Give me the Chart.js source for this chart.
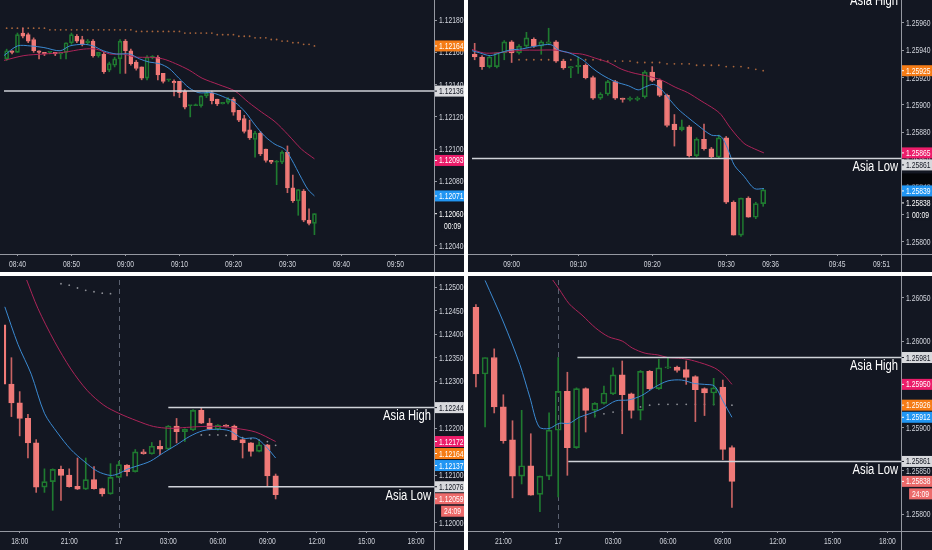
<!DOCTYPE html>
<html>
<head>
<meta charset="utf-8">
<script src="https://cdn.jsdelivr.net/npm/chart.js@4.4.0/dist/chart.umd.min.js"></script>
<style>
  body { margin: 0; background: #131722; width: 932px; height: 550px; overflow: hidden; position: relative; }
  canvas { position: absolute; }
  .sep { position: absolute; background: #ffffff; }
</style>
</head>
<body>
<canvas id="tl" width="464" height="272" style="left:0;top:0"></canvas>
<canvas id="tr" width="464" height="272" style="left:468px;top:0"></canvas>
<canvas id="bl" width="464" height="274" style="left:0;top:276px"></canvas>
<canvas id="br" width="464" height="274" style="left:468px;top:276px"></canvas>
<div class="sep" style="left:464px;top:0;width:4px;height:550px"></div>
<div class="sep" style="left:0;top:272px;width:932px;height:4px"></div>
<script>
// ---- top left: 1 min, 08:38 - 09:35
const tlOpen = [1.12156,1.12161,1.12160,1.12172,1.12171,1.12168,1.12161,1.12160,1.12160,1.12160,1.12159,1.12160,1.12166,1.12170,1.12168,1.12166,1.12167,1.12158,1.12159,1.12149,1.12152,1.12156,1.12167,1.12161,1.12154,1.12151,1.12144,1.12157,1.12157,1.12147,1.12143,1.12142,1.12142,1.12136,1.12127,1.12127,1.12127,1.12133,1.12135,1.12131,1.12128,1.12129,1.12131,1.12124,1.12119,1.12112,1.12106,1.12110,1.12100,1.12093,1.12092,1.12092,1.12098,1.12076,1.12068,1.12074,1.12056,1.12054];
const tlHigh = [1.12162,1.12161,1.12172,1.12175,1.12172,1.12169,1.12161,1.12160,1.12160,1.12160,1.12160,1.12166,1.12172,1.12171,1.12170,1.12168,1.12168,1.12160,1.12160,1.12154,1.12157,1.12168,1.12168,1.12162,1.12155,1.12151,1.12158,1.12158,1.12158,1.12147,1.12143,1.12143,1.12142,1.12137,1.12127,1.12128,1.12133,1.12136,1.12136,1.12131,1.12129,1.12132,1.12132,1.12124,1.12121,1.12118,1.12111,1.12111,1.12100,1.12093,1.12093,1.12099,1.12102,1.12084,1.12075,1.12075,1.12063,1.12060];
const tlLow = [1.12155,1.12159,1.12160,1.12169,1.12166,1.12160,1.12156,1.12158,1.12159,1.12158,1.12156,1.12156,1.12165,1.12166,1.12164,1.12165,1.12157,1.12157,1.12147,1.12148,1.12151,1.12147,1.12147,1.12152,1.12149,1.12143,1.12143,1.12156,1.12143,1.12141,1.12142,1.12133,1.12132,1.12125,1.12120,1.12127,1.12126,1.12132,1.12128,1.12127,1.12128,1.12128,1.12121,1.12117,1.12110,1.12106,1.12095,1.12096,1.12092,1.12091,1.12078,1.12091,1.12073,1.12067,1.12059,1.12055,1.12053,1.12047];
const tlClose = [1.12161,1.12160,1.12171,1.12170,1.12167,1.12161,1.12160,1.12159,1.12160,1.12159,1.12160,1.12166,1.12171,1.12167,1.12165,1.12167,1.12158,1.12160,1.12148,1.12153,1.12156,1.12167,1.12161,1.12153,1.12150,1.12144,1.12157,1.12157,1.12146,1.12142,1.12143,1.12141,1.12135,1.12126,1.12127,1.12127,1.12133,1.12135,1.12130,1.12128,1.12129,1.12131,1.12123,1.12118,1.12111,1.12107,1.12110,1.12097,1.12093,1.12092,1.12092,1.12098,1.12076,1.12068,1.12075,1.12056,1.12054,1.12060];
const tlFastX = [-0.5,2,4.4,6.9,9.9,11.7,14.2,16,17.9,20.3,22.8,24.6,26.4,28.3,30.1,31.9,33.8,35.6,38,40.5,42.3,44.2,46,47.8,49.7,51.5,52.7,54.6,55.8,57];
const tlFast = [1.12158,1.12164,1.12164,1.12163,1.12161,1.12164,1.12165,1.12164,1.12161,1.12159,1.12159,1.12156,1.12154,1.12153,1.12150,1.12144,1.12138,1.12135,1.12135,1.12132,1.12129,1.12123,1.12115,1.12108,1.12103,1.12100,1.12094,1.12082,1.12075,1.12071];
const tlSlowX = [-0.5,3.2,6.9,10.5,14.2,16.6,19.1,21.5,24,26.4,28.9,31.3,33.8,36.2,39.3,42.3,44.8,47.2,49.7,52.1,54.6,57];
const tlSlow = [1.12155,1.12158,1.12159,1.12160,1.12162,1.12162,1.12159,1.12159,1.12157,1.12157,1.12156,1.12153,1.12149,1.12144,1.12140,1.12136,1.12129,1.12123,1.12117,1.12109,1.12100,1.12094];
const tlDots = [1.12175,1.12175,1.12175,1.12175,1.12175,1.12175,1.12175,1.12175,1.12174,1.12174,1.12174,1.12174,1.12174,1.12174,1.12174,1.12174,1.12174,1.12174,1.12174,1.12174,1.12174,1.12174,1.12174,1.12174,1.12173,1.12173,1.12173,1.12173,1.12173,1.12173,1.12173,1.12173,1.12173,1.12172,1.12172,1.12172,1.12172,1.12172,1.12172,1.12171,1.12171,1.12171,1.12171,1.12170,1.12170,1.12170,1.12169,1.12169,1.12169,1.12168,1.12168,1.12167,1.12167,1.12166,1.12166,1.12165,1.12165,1.12164];
const tlTimeIdx = [2,12,22,32,42,52,62,72];
const tlTimeText = ['08:40','08:50','09:00','09:10','09:20','09:30','09:40','09:50'];
const tlPriceTicks = [1.12040,1.12060,1.12080,1.12100,1.12120,1.12140,1.12160,1.12180];

// ---- top right: 1 min, 08:56 - 09:35
const trOpen = [1.25937,1.25935,1.25928,1.25928,1.25938,1.25946,1.25938,1.25943,1.25948,1.25943,1.25945,1.25946,1.25932,1.25927,1.25928,1.25929,1.25920,1.25905,1.25908,1.25917,1.25905,1.25904,1.25904,1.25906,1.25924,1.25918,1.25907,1.25886,1.25882,1.25884,1.25863,1.25875,1.25868,1.25862,1.25876,1.25829,1.25805,1.25832,1.25818,1.25828];
const trHigh = [1.25945,1.25936,1.25936,1.25938,1.25947,1.25947,1.25944,1.25953,1.25949,1.25947,1.25956,1.25947,1.25933,1.25928,1.25935,1.25930,1.25921,1.25909,1.25918,1.25918,1.25905,1.25906,1.25906,1.25925,1.25928,1.25919,1.25908,1.25893,1.25889,1.25885,1.25876,1.25886,1.25869,1.25878,1.25877,1.25830,1.25832,1.25833,1.25829,1.25839];
const trLow = [1.25933,1.25926,1.25927,1.25927,1.25933,1.25931,1.25937,1.25942,1.25942,1.25937,1.25944,1.25931,1.25926,1.25920,1.25923,1.25919,1.25904,1.25904,1.25907,1.25904,1.25902,1.25903,1.25903,1.25905,1.25917,1.25906,1.25884,1.25870,1.25881,1.25862,1.25862,1.25867,1.25861,1.25861,1.25828,1.25805,1.25804,1.25818,1.25817,1.25826];
const trClose = [1.25935,1.25928,1.25935,1.25938,1.25946,1.25938,1.25943,1.25949,1.25943,1.25946,1.25946,1.25932,1.25927,1.25928,1.25929,1.25920,1.25905,1.25908,1.25917,1.25905,1.25904,1.25905,1.25905,1.25924,1.25918,1.25907,1.25885,1.25882,1.25884,1.25863,1.25875,1.25868,1.25862,1.25876,1.25829,1.25805,1.25832,1.25818,1.25828,1.25838];
const trFastX = [-0.6,0.7,2.1,3.4,4.7,6.5,8.3,10.3,11.4,12.8,14.6,15.9,17.2,19,20.8,22.1,23,24.2,25.3,26.2,27.5,28.8,30.2,32,33.3,34.2,35.1,36.4,37.8,39.1];
const trFast = [1.25940,1.25938,1.25936,1.25938,1.25940,1.25941,1.25943,1.25944,1.25940,1.25938,1.25933,1.25927,1.25922,1.25917,1.25914,1.25911,1.25913,1.25915,1.25911,1.25905,1.25897,1.25891,1.25885,1.25878,1.25877,1.25868,1.25856,1.25848,1.25839,1.25839];
const trSlowX = [-0.6,1.2,2.9,4.7,6.5,8.3,11,12.8,14.6,16.4,18.1,19.9,21.7,23.5,25.3,27.1,28.8,30.6,32.4,33.3,34.6,36.4,37.8,39.1];
const trSlow = [1.25941,1.25938,1.25938,1.25939,1.25940,1.25940,1.25940,1.25938,1.25937,1.25934,1.25931,1.25926,1.25923,1.25921,1.25918,1.25913,1.25909,1.25903,1.25897,1.25893,1.25883,1.25872,1.25868,1.25865];
const trDotX = [6,7,8,9,10,11,12,13,14,15,16,17,18,19,20,21,22,23,24,25,26,27,28,29,30,31,32,33,34,35,36,37,38,39];
const trDots = [1.25933,1.25933,1.25933,1.25933,1.25933,1.25933,1.25933,1.25933,1.25933,1.25933,1.25933,1.25933,1.25932,1.25932,1.25932,1.25932,1.25931,1.25931,1.25931,1.25931,1.25930,1.25930,1.25930,1.25930,1.25929,1.25929,1.25929,1.25929,1.25928,1.25928,1.25928,1.25927,1.25926,1.25925];
const trTimeIdx = [5,14,24,34,40,49,55];
const trTimeText = ['09:00','09:10','09:20','09:30','09:36','09:45','09:51'];
const trPriceTicks = [1.25800,1.25820,1.25840,1.25860,1.25880,1.25900,1.25920,1.25940,1.25960];

// ---- bottom left: 30 min, 17:00 - 09:30
const blOpen = [1.12420,1.12294,1.12254,1.12221,1.12169,1.12075,1.12087,1.12113,1.12101,1.12077,1.12071,1.12091,1.12072,1.12061,1.12096,1.12122,1.12108,1.12150,1.12146,1.12162,1.12156,1.12205,1.12193,1.12197,1.12238,1.12211,1.12198,1.12207,1.12205,1.12176,1.12169,1.12151,1.12165,1.12099];
const blHigh = [1.12430,1.12350,1.12278,1.12230,1.12176,1.12114,1.12114,1.12120,1.12114,1.12137,1.12137,1.12119,1.12073,1.12125,1.12130,1.12123,1.12155,1.12155,1.12170,1.12174,1.12206,1.12221,1.12199,1.12240,1.12244,1.12221,1.12208,1.12208,1.12207,1.12177,1.12170,1.12172,1.12166,1.12103];
const blLow = [1.12290,1.12225,1.12184,1.12137,1.12064,1.12064,1.12026,1.12047,1.12075,1.12070,1.12070,1.12071,1.12056,1.12060,1.12095,1.12099,1.12107,1.12145,1.12145,1.12144,1.12155,1.12169,1.12172,1.12195,1.12210,1.12197,1.12196,1.12203,1.12175,1.12137,1.12141,1.12150,1.12077,1.12050];
const blClose = [1.12294,1.12254,1.12221,1.12169,1.12075,1.12087,1.12113,1.12100,1.12076,1.12071,1.12091,1.12072,1.12061,1.12096,1.12123,1.12108,1.12150,1.12146,1.12162,1.12156,1.12205,1.12193,1.12198,1.12238,1.12211,1.12198,1.12207,1.12204,1.12176,1.12169,1.12151,1.12165,1.12099,1.12059];
const blFastX = [0.2,1.8,3.4,5,6.6,8.2,9.8,11.4,13,14,15,16.2,17.8,19.4,21,22.6,24.2,25.8,27.4,29,30.6,31.8,33];
const blFast = [1.12458,1.12378,1.12315,1.12232,1.12190,1.12155,1.12130,1.12109,1.12100,1.12104,1.12113,1.12120,1.12130,1.12148,1.12165,1.12183,1.12195,1.12198,1.12195,1.12179,1.12179,1.12162,1.12137];
const blSlowX = [2.8,4.2,6.2,8.2,10.2,12.2,14,16.2,18.2,20.2,22.2,24.2,26.2,28.2,30.6,33];
const blSlow = [1.12517,1.12455,1.12385,1.12326,1.12280,1.12249,1.12232,1.12216,1.12204,1.12200,1.12202,1.12204,1.12204,1.12200,1.12192,1.12172];
const blDotX = [7,8,9,10,11,12,13,24,25,26,27,28,29,30,31,32,33];
const blDots = [1.12507,1.12504,1.12498,1.12493,1.12490,1.12487,1.12486,1.12186,1.12186,1.12186,1.12185,1.12183,1.12180,1.12178,1.12175,1.12172,1.12164];
const blTimeIdx = [2,8,14,20,26,32,38,44,50];
const blTimeText = ['18:00','21:00','17','03:00','06:00','09:00','12:00','15:00','18:00'];
const blPriceTicks = [1.12000,1.12050,1.12100,1.12150,1.12200,1.12250,1.12300,1.12350,1.12400,1.12450,1.12500];

// ---- bottom right: 30 min, 19:30 - 09:30
const brOpen = [1.26039,1.25962,1.25981,1.25924,1.25886,1.25844,1.25856,1.25823,1.25844,1.25897,1.25942,1.25877,1.25945,1.25920,1.25928,1.25939,1.25961,1.25939,1.25920,1.25965,1.25945,1.25969,1.25970,1.25967,1.25959,1.25945,1.25940,1.25947,1.25877];
const brHigh = [1.26042,1.25981,1.25991,1.25938,1.25908,1.25920,1.25893,1.25844,1.25917,1.25981,1.25964,1.25946,1.25946,1.25929,1.25948,1.25969,1.25977,1.25940,1.25966,1.25966,1.25979,1.25981,1.25971,1.25977,1.25960,1.25946,1.25957,1.25955,1.25879];
const brLow = [1.25947,1.25901,1.25917,1.25882,1.25819,1.25835,1.25822,1.25803,1.25840,1.25820,1.25845,1.25876,1.25895,1.25912,1.25927,1.25938,1.25893,1.25911,1.25909,1.25944,1.25944,1.25968,1.25964,1.25950,1.25907,1.25914,1.25926,1.25863,1.25808];
const brClose = [1.25962,1.25981,1.25924,1.25885,1.25844,1.25856,1.25822,1.25844,1.25897,1.25942,1.25877,1.25945,1.25920,1.25928,1.25940,1.25961,1.25938,1.25920,1.25965,1.25945,1.25969,1.25970,1.25966,1.25958,1.25944,1.25940,1.25946,1.25875,1.25838];
const brFastX = [1,3,4.8,5.9,6.9,8,9.1,10.2,11.3,12.4,13.8,15.3,16.7,18.1,19.6,21,22.5,23.9,25,26.1,27,28];
const brFast = [1.26070,1.26022,1.25973,1.25935,1.25901,1.25899,1.25905,1.25905,1.25912,1.25916,1.25922,1.25931,1.25932,1.25937,1.25947,1.25954,1.25955,1.25951,1.25950,1.25948,1.25931,1.25912];
const brSlowX = [8.3,9.1,10.2,11.6,13.1,14.5,16,17.1,18.5,19.9,21,22.5,23.9,26.1,27.2,28];
const brSlow = [1.26072,1.26060,1.26043,1.26030,1.26015,1.26005,1.26000,1.25992,1.25986,1.25984,1.25981,1.25980,1.25977,1.25969,1.25960,1.25950];
const brDotX = [12,13,14,15,16,17,18,19,20,21,22,23,24,25,26,27,28];
const brDots = [1.25912,1.25914,1.25916,1.25918,1.25920,1.25922,1.25924,1.25926,1.25927,1.25927,1.25927,1.25927,1.25927,1.25927,1.25927,1.25927,1.25926];
const brTimeIdx = [3,9,15,21,27,33,39,45];
const brTimeText = ['21:00','17','03:00','06:00','09:00','12:00','15:00','18:00'];
const brPriceTicks = [1.25800,1.25850,1.25900,1.25950,1.26000,1.26050];

// colours
const BG = '#131722';
const UP = '#1f7a30';
const DOWN = '#f07a78';
const DOWN_WICK = '#c86363';
const FAST = '#3b8ad2';
const SLOW = '#ad2459';
const ORANGE = '#f57c16';
const PINK = '#ec1d6a';
const BLUE = '#2196f3';
const LIGHT = '#d8d9dd';
const SALMON = '#ec6b6b';
const AXIS = '#9598a1';
const TXT = '#d1d4dc';
const FONT = '"Liberation Sans", Arial, sans-serif';
const SQUEEZE = 0.75; // the screenshot text is narrow

Chart.defaults.font.family = FONT;

function xy(xs, ys) {
  return xs.map((x, i) => ({ x: x, y: ys[i] }));
}

// text drawn with a horizontal squeeze
function narrowText(ctx, text, x, y, align, k) {
  ctx.save();
  ctx.translate(x, y);
  ctx.scale(k, 1);
  ctx.textAlign = align;
  ctx.fillText(text, 0, 0);
  ctx.restore();
}

function makePanel(id, p) {
  const idx = p.open.map((v, i) => i);
  const isUp = i => p.close[i] >= p.open[i];

  const overlay = {
    id: 'overlay',
    beforeDatasetsDraw(chart) {
      const ctx = chart.ctx, a = chart.chartArea, xs = chart.scales.x;
      if (p.session != null) {
        const sx = Math.round(xs.getPixelForValue(p.session)) + 0.5;
        ctx.save();
        ctx.strokeStyle = '#5b6170';
        ctx.lineWidth = 1;
        ctx.setLineDash([5, 4]);
        ctx.beginPath();
        ctx.moveTo(sx, a.top);
        ctx.lineTo(sx, a.bottom);
        ctx.stroke();
        ctx.restore();
      }
    },
    afterDatasetsDraw(chart) {
      const ctx = chart.ctx, a = chart.chartArea, xs = chart.scales.x, ys = chart.scales.y;
      ctx.save();
      p.levels.forEach(l => {
        const py = ys.getPixelForValue(l.v);
        const px = l.from == null ? a.left : xs.getPixelForValue(l.from);
        ctx.strokeStyle = '#cfd2d8';
        ctx.lineWidth = 1.5;
        ctx.beginPath();
        ctx.moveTo(px, py);
        ctx.lineTo(a.right, py);
        ctx.stroke();
        if (l.text) {
          ctx.fillStyle = '#ffffff';
          ctx.font = '14px ' + FONT;
          ctx.textBaseline = 'middle';
          narrowText(ctx, l.text, a.right - 3, py + 9, 'right', 0.8);
        }
      });
      ctx.restore();
    },
    afterDraw(chart) {
      const ctx = chart.ctx, a = chart.chartArea, xs = chart.scales.x, ys = chart.scales.y;
      ctx.save();
      // axis lines
      ctx.strokeStyle = AXIS;
      ctx.lineWidth = 1;
      ctx.beginPath();
      ctx.moveTo(a.right + 0.5, 0);
      ctx.lineTo(a.right + 0.5, chart.height);
      ctx.moveTo(0, a.bottom + 0.5);
      ctx.lineTo(chart.width, a.bottom + 0.5);
      ctx.stroke();
      // axis labels
      ctx.font = '9px ' + FONT;
      ctx.textBaseline = 'middle';
      ctx.fillStyle = TXT;
      p.priceTicks.forEach(v => {
        narrowText(ctx, v.toFixed(5), a.right + 5, ys.getPixelForValue(v) + 0.5, 'left', SQUEEZE);
      });
      p.timeIdx.forEach((v, i) => {
        narrowText(ctx, p.timeText[i], xs.getPixelForValue(v), a.bottom + 11, 'center', SQUEEZE);
      });
      // price labels, stacked so they do not overlap
      const boxes = p.labels.map(l => Object.assign({ py: ys.getPixelForValue(l.v) }, l))
        .sort((m, n) => m.py - n.py);
      let prev = -100, lastY = null;
      boxes.forEach(b => {
        const py = Math.max(b.py, prev + 12);
        prev = py;
        ctx.fillStyle = b.bg;
        ctx.fillRect(a.right + 1, py - 5.5, chart.width - a.right - 1, 11);
        if (!b.blank) {
          ctx.fillStyle = b.fg || '#ffffff';
          ctx.fillRect(a.right + 1, py - 0.5, 2, 1);
          narrowText(ctx, b.v.toFixed(5), a.right + 5, py + 0.5, 'left', SQUEEZE);
        }
        if (b.last) lastY = py;
      });
      if (p.countdown && lastY != null) {
        const py = lastY + 12.5;
        const w = ctx.measureText(p.countdown.text).width * SQUEEZE + 6;
        ctx.fillStyle = p.countdown.bg;
        ctx.fillRect(chart.width - w, py - 5.5, w, 11);
        ctx.fillStyle = '#ffffff';
        narrowText(ctx, p.countdown.text, chart.width - 3, py + 0.5, 'right', SQUEEZE);
      }
      ctx.restore();
    }
  };

  new Chart(document.getElementById(id), {
    type: 'bar',
    data: {
      datasets: [
        {
          type: 'line', data: xy(p.fastX, p.fast), borderColor: FAST, borderWidth: 1,
          pointRadius: 0, tension: 0.3, order: 1
        },
        {
          type: 'line', data: xy(p.slowX, p.slow), borderColor: SLOW, borderWidth: 1,
          pointRadius: 0, tension: 0.3, order: 2
        },
        {
          data: idx.map(i => ({ x: i, y: [p.open[i], p.close[i]] })),
          backgroundColor: idx.map(i => isUp(i) ? 'rgba(0,0,0,0)' : DOWN),
          borderColor: idx.map(i => isUp(i) ? UP : DOWN),
          borderWidth: 1, borderSkipped: false, minBarLength: 1,
          barThickness: p.body, grouped: false, order: 3
        },
        {
          data: idx.map(i => ({ x: i, y: [Math.max(p.open[i], p.close[i]), p.high[i]] })),
          backgroundColor: idx.map(i => isUp(i) ? UP : DOWN_WICK),
          borderWidth: 0, barThickness: 1, grouped: false, order: 4
        },
        {
          data: idx.map(i => ({ x: i, y: [p.low[i], Math.min(p.open[i], p.close[i])] })),
          backgroundColor: idx.map(i => isUp(i) ? UP : DOWN_WICK),
          borderWidth: 0, barThickness: 1, grouped: false, order: 5
        },
        {
          type: 'line', data: xy(p.dotX, p.dots), showLine: false,
          pointRadius: 0.9, pointBorderWidth: 0, pointBackgroundColor: p.dotColor, order: 6
        }
      ]
    },
    options: {
      responsive: false,
      animation: false,
      devicePixelRatio: 1,
      events: [],
      layout: { padding: 0 },
      plugins: { legend: { display: false }, tooltip: { enabled: false } },
      scales: {
        x: {
          type: 'linear', min: p.xMin, max: p.xMax, offset: false,
          grid: { drawOnChartArea: false, offset: false, color: AXIS, tickLength: 2 },
          border: { display: false },
          ticks: { display: false, autoSkip: false, maxRotation: 0, minRotation: 0 },
          afterBuildTicks: s => { s.ticks = p.timeIdx.map(v => ({ value: v })); },
          afterFit: s => { s.height = p.xH; s.paddingLeft = 0; s.paddingRight = 0; }
        },
        y: {
          type: 'linear', position: 'right', min: p.yMin, max: p.yMax, beginAtZero: false,
          grid: { drawOnChartArea: false, color: AXIS, tickLength: 3 },
          border: { display: false },
          ticks: { display: false, autoSkip: false },
          afterBuildTicks: s => { s.ticks = p.priceTicks.map(v => ({ value: v })); },
          afterFit: s => { s.width = p.yW; s.paddingTop = 0; s.paddingBottom = 0; }
        }
      }
    },
    plugins: [overlay]
  });
}

makePanel('tl', {
  open: tlOpen, high: tlHigh, low: tlLow, close: tlClose,
  fastX: tlFastX, fast: tlFast, slowX: tlSlowX, slow: tlSlow,
  dotX: tlOpen.map((v, i) => i), dots: tlDots, dotColor: '#a8653c',
  timeIdx: tlTimeIdx, timeText: tlTimeText, priceTicks: tlPriceTicks,
  xMin: -0.49, xMax: 79.14, yMin: 1.12035, yMax: 1.12190, xH: 18, yW: 30, body: 4,
  levels: [{ v: 1.12136 }],
  labels: [
    { v: 1.12164, bg: ORANGE }, { v: 1.12136, bg: LIGHT, fg: BG },
    { v: 1.12093, bg: PINK }, { v: 1.12071, bg: BLUE }, { v: 1.12060, bg: BG, last: true }
  ],
  countdown: { text: '00:09', bg: BG }
});

makePanel('tr', {
  open: trOpen, high: trHigh, low: trLow, close: trClose,
  fastX: trFastX, fast: trFast, slowX: trSlowX, slow: trSlow,
  dotX: trDotX, dots: trDots, dotColor: '#a8653c',
  timeIdx: trTimeIdx, timeText: trTimeText, priceTicks: trPriceTicks,
  xMin: -0.36, xMax: 57.63, yMin: 1.257912, yMax: 1.259737, xH: 18, yW: 31, body: 5,
  levels: [{ v: 1.25982, text: 'Asia High' }, { v: 1.25861, text: 'Asia Low' }],
  labels: [
    { v: 1.25925, bg: ORANGE }, { v: 1.25865, bg: PINK }, { v: 1.25861, bg: LIGHT, fg: BG },
    { v: 1.25846, bg: '#050609', blank: true }, { v: 1.25839, bg: BLUE },
    { v: 1.25838, bg: BG, last: true }
  ],
  countdown: { text: '00:09', bg: BG }
});

makePanel('bl', {
  open: blOpen, high: blHigh, low: blLow, close: blClose,
  fastX: blFastX, fast: blFast, slowX: blSlowX, slow: blSlow,
  dotX: blDotX, dots: blDots, dotColor: '#8d8f96',
  timeIdx: blTimeIdx, timeText: blTimeText, priceTicks: blPriceTicks,
  xMin: 0.1, xMax: 52.18, yMin: 1.11982, yMax: 1.12515, xH: 19, yW: 30, body: 5.5,
  session: 14,
  levels: [{ v: 1.12244, from: 20, text: 'Asia High' }, { v: 1.12076, from: 20, text: 'Asia Low' }],
  labels: [
    { v: 1.12244, bg: LIGHT, fg: BG }, { v: 1.12172, bg: PINK }, { v: 1.12164, bg: ORANGE },
    { v: 1.12137, bg: BLUE }, { v: 1.12076, bg: LIGHT, fg: BG }, { v: 1.12059, bg: SALMON, last: true }
  ],
  countdown: { text: '24:09', bg: SALMON }
});

makePanel('br', {
  open: brOpen, high: brHigh, low: brLow, close: brClose,
  fastX: brFastX, fast: brFast, slowX: brSlowX, slow: brSlow,
  dotX: brDotX, dots: brDots, dotColor: '#8d8f96',
  timeIdx: brTimeIdx, timeText: brTimeText, priceTicks: brPriceTicks,
  xMin: -0.43, xMax: 46.49, yMin: 1.257807, yMax: 1.260705, xH: 19, yW: 31, body: 6,
  session: 9,
  levels: [{ v: 1.25981, from: 11.1, text: 'Asia High' }, { v: 1.25861, from: 10.1, text: 'Asia Low' }],
  labels: [
    { v: 1.25981, bg: LIGHT, fg: BG }, { v: 1.25950, bg: PINK }, { v: 1.25926, bg: ORANGE },
    { v: 1.25912, bg: BLUE }, { v: 1.25861, bg: LIGHT, fg: BG }, { v: 1.25838, bg: SALMON, last: true }
  ],
  countdown: { text: '24:09', bg: SALMON }
});
</script>
</body>
</html>
